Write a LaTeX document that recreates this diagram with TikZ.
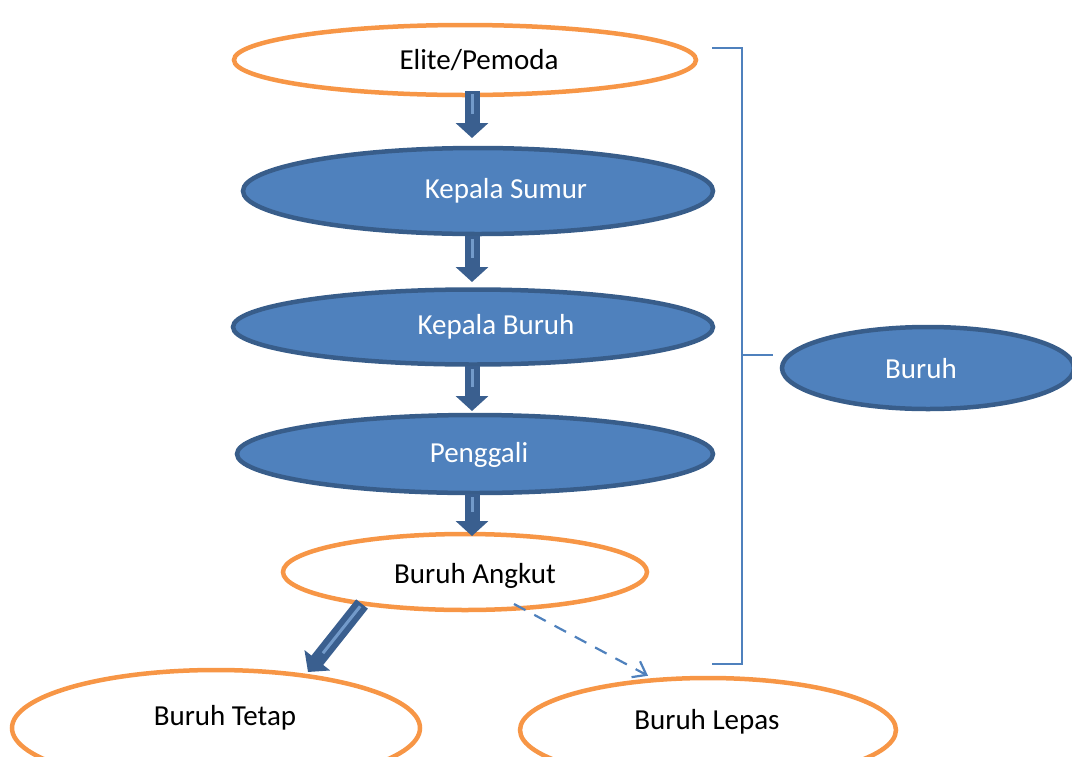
\documentclass[tikz,border=0pt]{standalone}
\usepackage{fontspec}
\setmainfont{Carlito}
\usetikzlibrary{shapes.geometric,arrows.meta}
\definecolor{orng}{HTML}{F79646}
\definecolor{bfill}{HTML}{4F81BD}
\definecolor{bdraw}{HTML}{385D8A}
\definecolor{adark}{HTML}{3A5F8F}
\begin{document}
\begin{tikzpicture}[x=1pt,y=-1pt,
  every node/.style={font=\fontsize{29}{34}\selectfont},
  oell/.style={ellipse, draw=orng, line width=4.5pt, fill=white, inner sep=0pt},
  bell/.style={ellipse, draw=bdraw, line width=4.5pt, fill=bfill, inner sep=0pt},
  wtxt/.style={text=white},
  btxt/.style={text=black},
  blockarrow/.style={draw=adark, line width=15pt, -{Triangle[length=15pt,width=32pt]}},
  blockinner/.style={draw=bfill!80!white, line width=3pt},
  bracket/.style={draw=bfill, line width=2pt},
  dasharrow/.style={draw=bfill, line width=2.2pt, dash pattern=on 13pt off 10pt, -{Straight Barb[length=12pt,width=18pt]}}
]
\useasboundingbox (0,0) rectangle (1072,756);
\clip (0,0) rectangle (1072,756);

\node[oell, minimum width=462, minimum height=70] (elite) at (465,60) {};
\node[btxt] (elitetxt) at (479,60) {Elite/Pemoda};
\node[bell, minimum width=470, minimum height=86] (sumur) at (478,191) {};
\node[wtxt] (sumurtxt) at (506,191) {Kepala Sumur};
\node[bell, minimum width=480, minimum height=75] (kburuh) at (473,327) {};
\node[wtxt] (kburuhtxt) at (496,327) {Kepala Buruh};
\node[bell, minimum width=476, minimum height=78] (penggali) at (475,454) {};
\node[wtxt] (penggalitxt) at (479,455) {Penggali};
\node[oell, minimum width=364, minimum height=76] (angkut) at (465,572) {};
\node[btxt] (angkuttxt) at (475,576) {Buruh Angkut};
\node[bell, minimum width=292, minimum height=82] (buruh) at (928,368) {};
\node[wtxt] (buruhtxt) at (921,369) {Buruh};
\node[oell, minimum width=408, minimum height=116] (tetap) at (216,728) {};
\node[btxt] (tetaptxt) at (225,718) {Buruh Tetap};
\node[oell, minimum width=376, minimum height=104] (lepas) at (708,730) {};
\node[btxt] (lepastxt) at (707,722) {Buruh Lepas};

% block arrows
\coordinate (a1s) at (472,91);  \coordinate (a1e) at (472,138);
\coordinate (a2s) at (472,236); \coordinate (a2e) at (472,282);
\coordinate (a3s) at (472,366); \coordinate (a3e) at (472,411);
\coordinate (a4s) at (472,494); \coordinate (a4e) at (472,536);
\coordinate (a5s) at (362,604); \coordinate (a5e) at (308,672);
\foreach \s/\e in {a1s/a1e,a2s/a2e,a3s/a3e,a4s/a4e,a5s/a5e}{
  \draw[blockarrow] (\s) -- (\e);
  \draw[blockinner, shorten >=24pt, shorten <=3pt] (\s) -- (\e);
}

% dashed arrow
\coordinate (dS) at (514,604);
\draw[dasharrow] (dS) -- (lepas.north -| 648,0) ;

% bracket
\coordinate (bt) at (712,48);
\coordinate (bb) at (712,664);
\coordinate (bm) at (742,355);
\draw[bracket] (bt) -- (742,48) -- (742,664) -- (bb);
\draw[bracket] (bm) -- (773,355);
\end{tikzpicture}
\end{document}
